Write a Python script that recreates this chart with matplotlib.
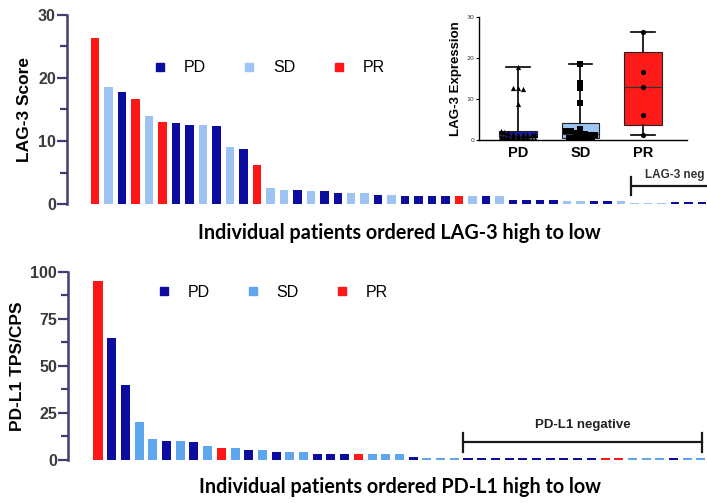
import numpy as np
import matplotlib
matplotlib.use("Agg")
import matplotlib.pyplot as plt
from matplotlib.lines import Line2D

# ---------------- data ----------------
groups = ["PD", "SD", "PR"]

lag3_response = ["PR", "SD", "PD", "PR", "SD", "PR", "PD", "PD", "SD", "PD",
                 "SD", "PD", "PR", "SD", "SD", "PD", "SD", "PD", "PD", "SD",
                 "SD", "PD", "SD", "PD", "PD", "PD", "PD", "PR", "SD", "PD",
                 "SD", "PD", "PD", "PD", "PD", "SD", "SD", "PD", "PD", "SD",
                 "SD", "SD", "SD", "PD", "PD", "PD"]
lag3_score = [26.4, 18.6, 17.8, 16.6, 14.0, 13.0, 12.8, 12.6, 12.6, 12.4,
              9.0, 8.8, 6.2, 2.6, 2.2, 2.2, 2.1, 2.0, 1.8, 1.7,
              1.7, 1.4, 1.4, 1.3, 1.3, 1.3, 1.3, 1.3, 1.3, 1.3,
              1.3, 0.7, 0.7, 0.7, 0.7, 0.5, 0.5, 0.4, 0.4, 0.4,
              0.2, 0.2, 0.2, 0.3, 0.3, 0.3]

pdl1_response = ["PR", "PD", "PD", "SD", "SD", "PD", "SD", "PD", "SD", "PR",
                 "SD", "PD", "SD", "PD", "SD", "SD", "PD", "PD", "PD", "PR",
                 "SD", "SD", "SD", "PD", "SD", "SD", "SD", "PD", "PD", "PD",
                 "PD", "PD", "PD", "PD", "PD", "PD", "PD", "PR", "PR", "SD",
                 "SD", "SD", "PD", "SD", "SD"]
pdl1_score = [95, 65, 40, 20, 11, 10.3, 10.3, 9.4, 7.6, 6.2,
              6.2, 5.4, 5.4, 4.2, 4.2, 4.2, 3.2, 3.2, 3.2, 3.2,
              3.2, 3.2, 3.2, 1.5, 1.1, 1.1, 1.1, 0.8, 0.8, 0.8,
              0.8, 0.8, 0.8, 0.8, 0.8, 0.8, 0.8, 0.8, 0.8, 0.8,
              0.8, 0.8, 0.8, 0.8, 0.8]

lag3_ticks = [0, 10, 20, 30]
pdl1_ticks = [0, 25, 50, 75, 100]
inset_ticks = [0, 10, 20, 30]

lag3_title = "Individual patients ordered LAG-3 high to low"
pdl1_title = "Individual patients ordered PD-L1 high to low"

# ---------------- styles ----------------
top_colors = {"PD": "#0c0c9e", "SD": "#9cc3f2", "PR": "#ff1616"}
bot_colors = {"PD": "#0c0c9e", "SD": "#5ea6ee", "PR": "#ff1616"}
spine_col = "#3e3e70"
tick_col = "#3a3a3a"
SANS = ["Liberation Sans", "DejaVu Sans"]
HUM = ["Lato", "DejaVu Sans"]

fig = plt.figure(figsize=(7.07, 5.03), dpi=100)


def style_axis(ax, ticks, minors):
    for s in ["top", "right", "bottom"]:
        ax.spines[s].set_visible(False)
    ax.spines["left"].set_color(spine_col)
    ax.spines["left"].set_linewidth(1.8)
    ax.set_yticks(ticks)
    ax.set_yticks(minors, minor=True)
    ax.tick_params(axis="y", which="major", length=7, width=1.6,
                   color=spine_col, pad=1, labelsize=11.5, labelcolor=tick_col)
    ax.tick_params(axis="y", which="minor", length=5, width=1.6,
                   color=spine_col)
    ax.set_xticks([])
    for lab in ax.get_yticklabels():
        lab.set_fontweight("bold")
        lab.set_family(SANS)


def add_legend(ax, colors, anchor):
    handles = [Line2D([], [], marker="s", linestyle="none", markersize=6,
                      markerfacecolor=colors[g], markeredgecolor=colors[g])
               for g in groups]
    ax.legend(handles, groups, loc="center left", bbox_to_anchor=anchor,
              frameon=False, ncol=3, handlelength=1.0, handletextpad=1.0,
              columnspacing=2.2, borderpad=0, borderaxespad=0,
              prop={"family": SANS, "size": 11.5})


# ---------------- top chart ----------------
ax1 = fig.add_axes([67 / 707, (503 - 204) / 503, 640 / 707, 189 / 503])
x1 = np.arange(len(lag3_score))
ax1.bar(x1, lag3_score, width=0.63,
        color=[top_colors[r] for r in lag3_response])
ax1.set_xlim(-2.07, len(lag3_score) - 1 + 0.37)
ax1.set_ylim(lag3_ticks[0], lag3_ticks[-1])
style_axis(ax1, lag3_ticks, [5, 15, 25])
ax1.set_ylabel("LAG-3 Score", family=SANS, fontsize=12.5, fontweight="bold",
               labelpad=4)
add_legend(ax1, top_colors, (0.133, 0.72))

# LAG-3 negative bracket
neg1 = 40 - 0.3
ax1.plot([neg1, neg1], [1.4, 4.3], color="#1a1a1a", lw=1.6, clip_on=False)
ax1.plot([neg1, len(lag3_score) + 2], [2.85, 2.85], color="#1a1a1a", lw=1.6,
         clip_on=False)
ax1.text(neg1 + 1.1, 4.6, "LAG-3 neg", family=SANS, fontsize=8.5,
         fontweight="bold", color="#333333", ha="left", va="center",
         clip_on=False)

fig.text(399 / 707, (503 - 233) / 503, lag3_title, family=HUM, fontsize=14.2,
         fontweight="bold", ha="center", va="center")

# ---------------- bottom chart ----------------
ax2 = fig.add_axes([68 / 707, (503 - 460) / 503, 639 / 707, 188.3 / 503])
x2 = np.arange(len(pdl1_score))
ax2.bar(x2, pdl1_score, width=0.66,
        color=[bot_colors[r] for r in pdl1_response])
ax2.set_xlim(-2.19, len(pdl1_score) - 1 + 0.44)
ax2.set_ylim(pdl1_ticks[0], pdl1_ticks[-1])
style_axis(ax2, pdl1_ticks, [12.5, 37.5, 62.5, 87.5])
ax2.set_ylabel("PD-L1 TPS/CPS", family=SANS, fontsize=12.5, fontweight="bold",
               labelpad=4)
add_legend(ax2, bot_colors, (0.137, 0.892))

neg2_start = 27 - 0.35
neg2_end = len(pdl1_score) - 1 + 0.1
ax2.plot([neg2_start, neg2_end], [9.6, 9.6], color="#1a1a1a", lw=1.6,
         clip_on=False)
for xx in (neg2_start, neg2_end):
    ax2.plot([xx, xx], [4.3, 14.6], color="#1a1a1a", lw=1.6, clip_on=False)
ax2.text((neg2_start + neg2_end) / 2, 18.8, "PD-L1 negative", family=SANS,
         fontsize=9.5, fontweight="bold", color="#222222", ha="center",
         va="center")

fig.text(400 / 707, (503 - 487) / 503, pdl1_title, family=HUM, fontsize=14.2,
         fontweight="bold", ha="center", va="center")

# ---------------- inset box plot ----------------
axi = fig.add_axes([479 / 707, (503 - 140) / 503, 208 / 707, 123 / 503])
vals = [[v for v, r in zip(lag3_score, lag3_response) if r == g] for g in groups]
stats = []
for g, v in zip(groups, vals):
    q1, med, q3 = np.percentile(v, [25, 50, 75], method="weibull")
    stats.append(dict(label=g, med=med, q1=q1, q3=q3,
                      whislo=min(v), whishi=max(v), fliers=[]))
box_colors = {"PD": "#1616a8", "SD": "#9cc3f2", "PR": "#ff1a1a"}
bp = axi.bxp(stats, positions=[0, 1, 2], widths=0.6, patch_artist=True,
             showfliers=False, capwidths=0.38,
             medianprops=dict(color="#333333", lw=0.9),
             whiskerprops=dict(color="black", lw=1.2),
             capprops=dict(color="black", lw=1.2),
             boxprops=dict(lw=0.8))
for patch, g in zip(bp["boxes"], groups):
    patch.set_facecolor(box_colors[g])
    patch.set_edgecolor("#222222")

markers = {"PD": "^", "SD": "s", "PR": "o"}
for i, (g, v) in enumerate(zip(groups, vals)):
    v = np.array(v)
    bins = np.floor(v / 1.2)
    offs = np.zeros(len(v))
    for b in np.unique(bins):
        idx = np.where(bins == b)[0]
        k = len(idx)
        offs[idx] = np.clip((np.arange(k) - (k - 1) / 2) * 0.075, -0.27, 0.27)
    axi.scatter(i + offs, v, marker=markers[g], s=14, color="black",
                zorder=5, linewidths=0)

axi.set_xlim(-0.62, 2.7)
axi.set_ylim(inset_ticks[0], inset_ticks[-1])
axi.set_yticks(inset_ticks)
axi.set_xticks([0, 1, 2])
axi.set_xticklabels(groups, family=SANS, fontsize=10.5, fontweight="bold")
axi.tick_params(axis="x", length=0, pad=4)
axi.tick_params(axis="y", length=2.5, width=0.8, labelsize=4.5, pad=1,
                labelcolor="#333333")
for s in ["top", "right"]:
    axi.spines[s].set_visible(False)
for s in ["left", "bottom"]:
    axi.spines[s].set_linewidth(1.0)
axi.set_ylabel("LAG-3 Expression", family=SANS, fontsize=9.5,
               fontweight="bold", labelpad=3)

fig.savefig("out.png", dpi=100)
